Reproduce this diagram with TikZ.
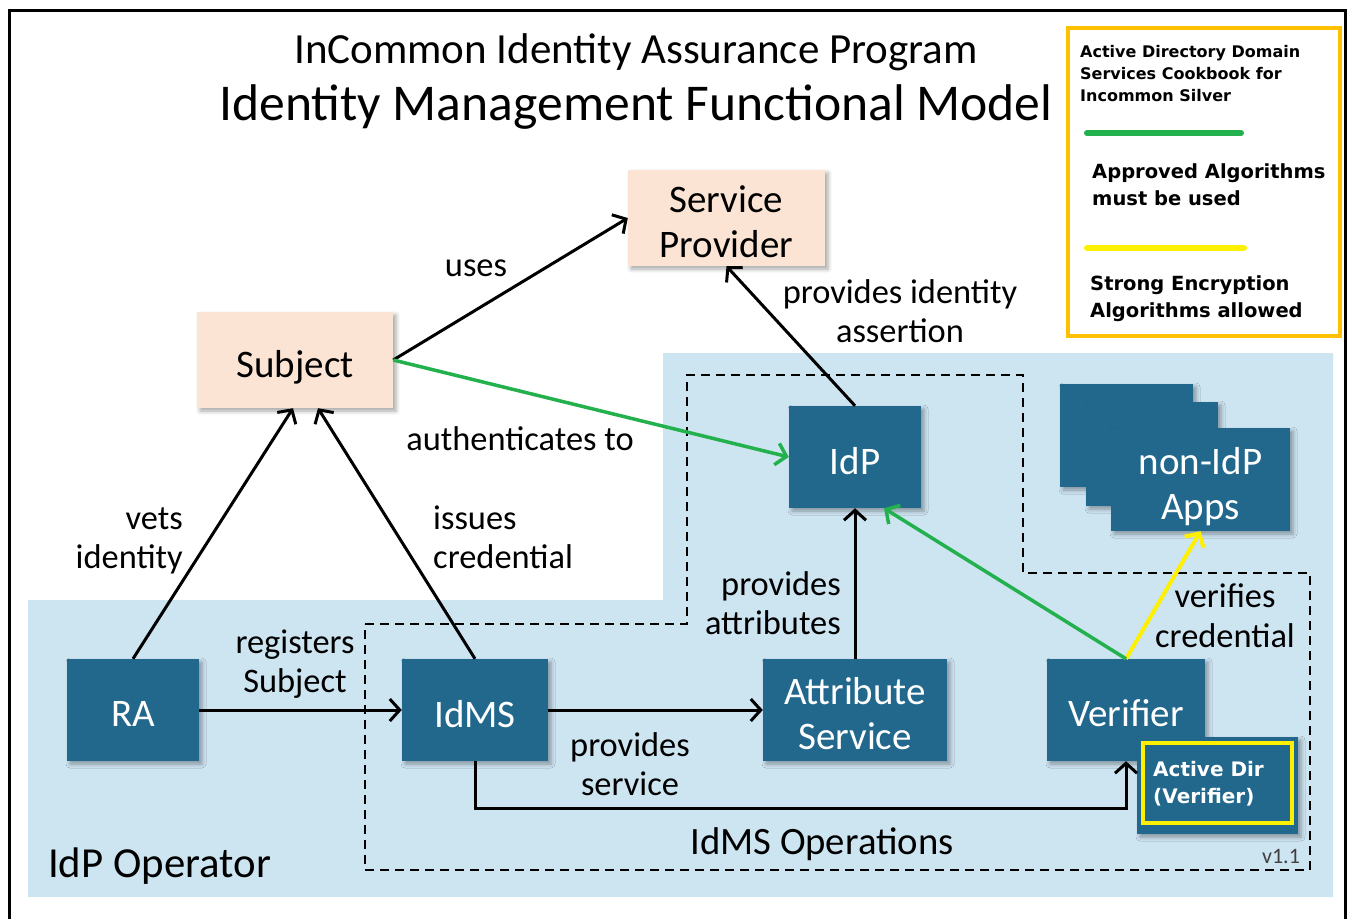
\documentclass[tikz,border=0pt]{standalone}
\usepackage{fontspec}
\setmainfont{Carlito}
\newfontfamily\legendfont{DejaVu Sans}
\usepackage{tikz}
\usetikzlibrary{positioning, arrows.meta, shadows.blur}

\definecolor{idteal}{RGB}{34,104,140}
\definecolor{opblue}{RGB}{205,228,241}
\definecolor{peach}{RGB}{252,228,212}
\definecolor{okgreen}{RGB}{34,177,76}
\definecolor{encyellow}{RGB}{255,240,0}
\definecolor{legendgold}{RGB}{255,192,0}

% lower box text a little, keeping the box size
\newcommand{\boxlabel}[2][4pt]{\raisebox{-#1}[\height][\depth]{#2}}

\tikzset{
    boxshadow/.style={blur shadow={shadow xshift=3pt, shadow yshift=-3pt, shadow blur radius=4pt, shadow opacity=35}},
    tealbox/.style={fill=idteal, text=white, inner sep=0pt, boxshadow, font=\fontsize{39}{45}\selectfont},
    peachbox/.style={fill=peach, text=black, inner sep=0pt, boxshadow, font=\fontsize{39}{45}\selectfont},
    linktext/.style={inner sep=0pt, font=\fontsize{34.4}{39.5}\selectfont},
    legendtext/.style={inner sep=0pt, anchor=west, font=\legendfont\bfseries\fontsize{19.5}{27}\selectfont},
    flow/.style={line width=3pt, -{Straight Barb[length=10pt,width=22pt]}},
}

\begin{document}
\begin{tikzpicture}[x=1pt, y=-1pt]

    \useasboundingbox (0,0) rectangle (1353,919);

    % frame and operator area
    \draw[line width=3pt] (9,919) -- (9,10) -- (1345,10) -- (1345,919);
    \fill[opblue] (28,600) -- (663,600) -- (663,353) -- (1333,353) -- (1333,897) -- (28,897) -- cycle;
    \draw[line width=2pt, dash pattern=on 9pt off 6pt] (365,624) -- (687,624) -- (687,375) -- (1023,375)
        -- (1023,573) -- (1310,573) -- (1310,870) -- (365,870) -- cycle;

    % titles
    \node[inner sep=0pt, font=\fontsize{43}{50}\selectfont] (titletop) at (636,52) {InCommon Identity Assurance Program};
    \node[inner sep=0pt, font=\fontsize{51.6}{60}\selectfont] (titlemain) at (636,107) {Identity Management Functional Model};

    % ----------

    \node[peachbox, minimum width=197pt, minimum height=96pt] (serviceprovider) at (726.5,218) {\boxlabel[8pt]{
    \begin{tabular}{c}
    Service\\
    Provider
    \end{tabular}
    }};

    \node[peachbox, minimum width=196pt, minimum height=96pt] (subject) at (295,360) {\boxlabel[7pt]{Subject}};

    \node[tealbox, minimum width=132pt, minimum height=102pt] (idp) at (855,457) {\boxlabel{IdP}};

    % ----------

    \node[tealbox, minimum width=133pt, minimum height=103pt] (appsback) at (1126.5,435.5) {};
    \node[tealbox, minimum width=132pt, minimum height=104pt] (appsmid) at (1152,454) {};
    \node[tealbox, minimum width=179pt, minimum height=103pt] (nonidp) at (1200.5,479.5) {\boxlabel[8pt]{
    \begin{tabular}{c}
    non-IdP\\
    Apps
    \end{tabular}
    }};

    % ----------

    \node[tealbox, minimum width=132pt, minimum height=102pt] (ra) at (133,710) {\boxlabel{RA}};
    \node[tealbox, minimum width=146pt, minimum height=102pt] (idms) at (475,710) {\boxlabel{IdMS}};
    \node[tealbox, minimum width=184pt, minimum height=102pt] (attributeservice) at (855,710) {\boxlabel[8pt]{
    \begin{tabular}{c}
    Attribute\\
    Service
    \end{tabular}
    }};
    \node[tealbox, minimum width=158pt, minimum height=102pt] (verifier) at (1126,710) {\boxlabel[3pt]{Verifier}};

    \node[tealbox, minimum width=161pt, minimum height=97pt] (activedir) at (1217.5,785.5) {};
    \node[draw=encyellow, line width=4pt, minimum width=149pt, minimum height=80pt, inner sep=0pt] (activedirY) at (1217.5,783) {};
    \node[legendtext, text=white, font=\legendfont\bfseries\fontsize{20}{27}\selectfont] (activedirL) at (1153,784.5) {
    \begin{tabular}{@{}l@{}}
    Active Dir\\
    (Verifier)
    \end{tabular}
    };

    % ----------

    \draw[flow] (subject.east) -- (serviceprovider.west);
    \draw[flow] (idp.north) -- (serviceprovider.south);
    \draw[flow, okgreen, line width=3.5pt] (subject.east) -- (idp.west);
    \draw[flow] (ra.north) -- ([xshift=-2pt]subject.south);
    \draw[flow] (idms.north) -- ([xshift=23pt]subject.south);
    \draw[flow] (ra.east) -- (idms.west);
    \draw[flow] (idms.east) -- (attributeservice.west);
    \draw[flow] (attributeservice.north) -- (idp.south);
    \draw[flow, encyellow, line width=4pt] (verifier.north) -- (nonidp.south);
    \draw[flow, okgreen, line width=3.5pt] (verifier.north) -- ([xshift=29pt]idp.south);
    \draw[flow] (idms.south) -- ++(0,47) -| (verifier.south);

    % ----------

    \node[linktext] (usesL) at (476,268) {uses};
    \node[linktext] (assertionL) at (900,315) {
    \begin{tabular}{c}
    provides identity\\
    assertion
    \end{tabular}
    };
    \node[linktext] (authL) at (520,439) {authenticates to};
    \node[linktext, anchor=east] (vetsL) at (183,541) {
    \begin{tabular}{@{}r@{}}
    vets\\
    identity
    \end{tabular}
    };
    \node[linktext, anchor=west] (issuesL) at (433,541) {
    \begin{tabular}{@{}l@{}}
    issues\\
    credential
    \end{tabular}
    };
    \node[linktext] (registersL) at (295,665) {
    \begin{tabular}{c}
    registers\\
    Subject
    \end{tabular}
    };
    \node[linktext, anchor=east] (attributesL) at (841,607) {
    \begin{tabular}{@{}r@{}}
    provides\\
    attributes
    \end{tabular}
    };
    \node[linktext] (serviceL) at (630,768) {
    \begin{tabular}{c}
    provides\\
    service
    \end{tabular}
    };
    \node[linktext] (verifiesL) at (1225,619.5) {
    \begin{tabular}{c}
    verifies\\
    credential
    \end{tabular}
    };

    % ----------

    \node[inner sep=0pt, font=\fontsize{38.7}{45}\selectfont] (operationsL) at (822,844) {IdMS Operations};
    \node[inner sep=0pt, anchor=west, font=\fontsize{42.8}{50}\selectfont] (operatorL) at (48,866) {IdP Operator};
    \node[inner sep=0pt, text=black!75, font=\fontsize{22}{26}\selectfont] (versionL) at (1281,856) {v1.1};

    % legend
    \node[draw=legendgold, fill=white, line width=4pt, minimum width=272pt, minimum height=308pt, inner sep=0pt] (legend) at (1204,182) {};
    \node[legendtext, font=\legendfont\bfseries\fontsize{16}{22}\selectfont] (legendtitle) at (1080,75) {
    \begin{tabular}{@{}l@{}}
    Active Directory Domain\\
    Services Cookbook for\\
    Incommon Silver
    \end{tabular}
    };
    \draw[okgreen, line width=6pt, line cap=round] (1087,133) -- (1241,133);
    \node[legendtext] (approvedL) at (1092,186.5) {
    \begin{tabular}{@{}l@{}}
    Approved Algorithms\\
    must be used
    \end{tabular}
    };
    \draw[encyellow, line width=6pt, line cap=round] (1087,248) -- (1244,248);
    \node[legendtext] (strongL) at (1090,298.5) {
    \begin{tabular}{@{}l@{}}
    Strong Encryption\\
    Algorithms allowed
    \end{tabular}
    };

\end{tikzpicture}
\end{document}
